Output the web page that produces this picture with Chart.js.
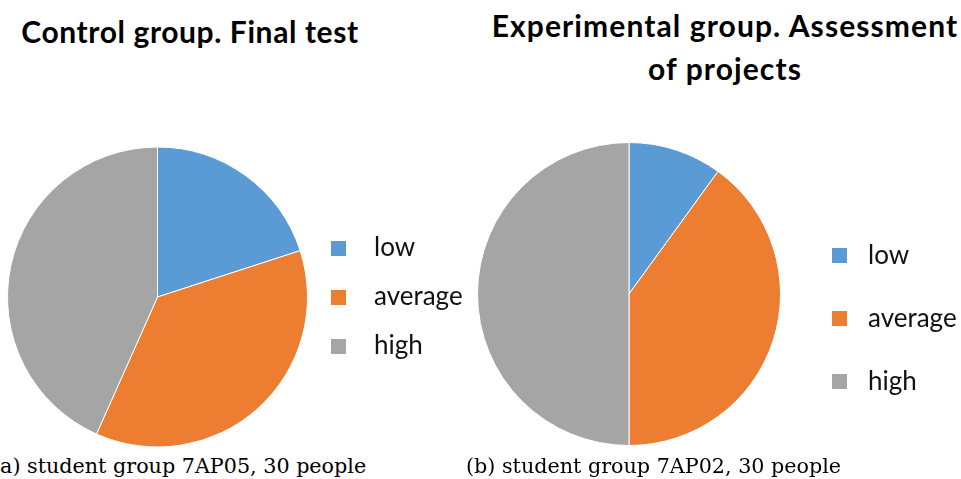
<!DOCTYPE html>
<html>
<head>
<meta charset="utf-8">
<script src="https://cdn.jsdelivr.net/npm/chart.js@4/dist/chart.umd.min.js"></script>
<style>
  html, body { margin: 0; padding: 0; background: #fff; }
  body { width: 961px; height: 479px; position: relative; overflow: hidden; }
  .box { position: absolute; }
  .title { position: absolute; text-align: center; font: bold 30px Lato, sans-serif; color: #000; white-space: nowrap; }
  .caption { position: absolute; font: 20.7px "DejaVu Serif", serif; line-height: 24px; color: #000; white-space: nowrap; }
</style>
</head>
<body>
<div class="title" id="title-a" style="left:0;top:13px;width:380px;line-height:36px;letter-spacing:0.6px;"></div>
<div class="title" id="title-b" style="left:480px;top:4px;width:490px;line-height:43px;letter-spacing:1.1px;"></div>
<div class="box" style="left:0;top:140px;width:463px;height:314px;"><canvas id="chart-a"></canvas></div>
<div class="box" style="left:455px;top:132px;width:505px;height:324px;"><canvas id="chart-b"></canvas></div>
<div class="caption" id="caption-a" style="left:-8px;top:454px;"></div>
<div class="caption" id="caption-b" style="left:466px;top:454px;"></div>
<script>
const categories = ['low', 'average', 'high'];
const controlValues = [6, 11, 13];
const experimentalValues = [3, 12, 15];
const colors = ['#5B9BD5', '#ED7D31', '#A5A5A5'];
const titles = ['Control group. Final test', 'Experimental group. Assessment<br>of projects'];
const captions = ['(a) student group 7AP05, 30 people', '(b) student group 7AP02, 30 people'];

document.getElementById('title-a').textContent = titles[0];
document.getElementById('title-b').innerHTML = titles[1];
document.getElementById('caption-a').textContent = captions[0];
document.getElementById('caption-b').textContent = captions[1];

Chart.defaults.font.family = 'Lato';
Chart.defaults.color = '#000';

// legend square sits on the left of a wider slot, so the text keeps its gap
const swatch = (color, w) => {
  const c = document.createElement('canvas');
  c.width = w;
  c.height = 15;
  const g = c.getContext('2d');
  g.fillStyle = color;
  g.fillRect(0, 0, 15, 15);
  return c;
};

const pie = (id, values, leg) => new Chart(document.getElementById(id), {
  type: 'pie',
  data: {
    labels: categories,
    datasets: [{
      data: values,
      backgroundColor: colors,
      borderColor: '#fff',
      borderWidth: 1,
      hoverOffset: 0
    }]
  },
  options: {
    responsive: true,
    maintainAspectRatio: false,
    animation: false,
    layout: { padding: leg.layout },
    plugins: {
      tooltip: { enabled: false },
      legend: {
        position: 'right',
        maxWidth: leg.maxWidth,
        title: leg.shift ? { display: true, text: '', font: { size: 10 }, padding: { top: leg.shift, bottom: 0 } } : { display: false },
        labels: {
          usePointStyle: true,
          pointStyleWidth: leg.slot,
          padding: leg.padding,
          color: '#111',
          font: { size: leg.size },
          generateLabels: chart => Chart.overrides.pie.plugins.legend.labels.generateLabels(chart)
            .map(item => ({ ...item, pointStyle: swatch(item.fillStyle, leg.slot), lineWidth: 0 }))
        }
      }
    }
  }
});

pie('chart-a', controlValues, {
  layout: { left: 7, right: 0, top: 0, bottom: 0 },
  maxWidth: 155, slot: 30, padding: 23, size: 26, shift: 0
});
pie('chart-b', experimentalValues, {
  layout: { left: 8, right: 0, top: 10, bottom: 10 },
  maxWidth: 165, slot: 23, padding: 37, size: 26, shift: 37
});
</script>
</body>
</html>
